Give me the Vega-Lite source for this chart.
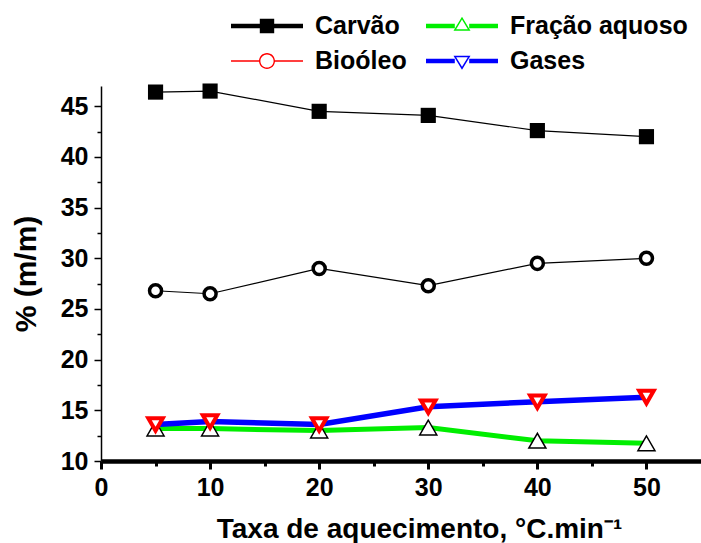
{
  "$schema": "https://vega.github.io/schema/vega-lite/v6.json",
  "width": 600,
  "height": 375,
  "autosize": {"type": "none"},
  "padding": {"left": 101, "top": 86, "right": 0, "bottom": 82},
  "background": "white",
  "config": {
    "view": {"stroke": null},
    "axis": {
      "grid": false,
      "domainColor": "black",
      "tickColor": "black",
      "labelColor": "black",
      "titleColor": "black",
      "labelFont": "Liberation Sans",
      "labelFontWeight": "bold",
      "labelFontSize": 25,
      "titleFont": "Liberation Sans",
      "titleFontWeight": "bold",
      "labelFlush": false,
      "labelOverlap": false
    }
  },
  "data": {
    "values": [
      {"taxa": 5, "valor": 46.4, "serie": "Carvão"},
      {"taxa": 10, "valor": 46.5, "serie": "Carvão"},
      {"taxa": 20, "valor": 44.5, "serie": "Carvão"},
      {"taxa": 30, "valor": 44.1, "serie": "Carvão"},
      {"taxa": 40, "valor": 42.6, "serie": "Carvão"},
      {"taxa": 50, "valor": 42.0, "serie": "Carvão"},
      {"taxa": 5, "valor": 26.8, "serie": "Bioóleo"},
      {"taxa": 10, "valor": 26.5, "serie": "Bioóleo"},
      {"taxa": 20, "valor": 29.0, "serie": "Bioóleo"},
      {"taxa": 30, "valor": 27.3, "serie": "Bioóleo"},
      {"taxa": 40, "valor": 29.5, "serie": "Bioóleo"},
      {"taxa": 50, "valor": 30.0, "serie": "Bioóleo"},
      {"taxa": 5, "valor": 13.2, "serie": "Fração aquoso"},
      {"taxa": 10, "valor": 13.2, "serie": "Fração aquoso"},
      {"taxa": 20, "valor": 13.0, "serie": "Fração aquoso"},
      {"taxa": 30, "valor": 13.3, "serie": "Fração aquoso"},
      {"taxa": 40, "valor": 12.0, "serie": "Fração aquoso"},
      {"taxa": 50, "valor": 11.75, "serie": "Fração aquoso"},
      {"taxa": 5, "valor": 13.6, "serie": "Gases"},
      {"taxa": 10, "valor": 13.9, "serie": "Gases"},
      {"taxa": 20, "valor": 13.6, "serie": "Gases"},
      {"taxa": 30, "valor": 15.35, "serie": "Gases"},
      {"taxa": 40, "valor": 15.85, "serie": "Gases"},
      {"taxa": 50, "valor": 16.3, "serie": "Gases"}
    ]
  },
  "encoding": {
    "x": {
      "field": "taxa",
      "type": "quantitative",
      "scale": {"domain": [0, 55], "nice": false, "zero": false},
      "axis": {
        "values": [0, 5, 10, 15, 20, 25, 30, 35, 40, 45, 50],
        "labelExpr": "datum.value % 10 === 0 ? datum.label : ''",
        "domainWidth": 4.5,
        "tickWidth": 3,
        "tickSize": {"condition": {"test": "datum.value % 10 === 0", "value": 8}, "value": 5},
        "labelPadding": 6,
        "title": "Taxa de aquecimento, °C.min⁻¹",
        "titleFontSize": 28,
        "titlePadding": 15,
        "titleX": 318
      }
    },
    "y": {
      "field": "valor",
      "type": "quantitative",
      "scale": {"domain": [10, 47], "nice": false, "zero": false},
      "axis": {
        "values": [10, 12.5, 15, 17.5, 20, 22.5, 25, 27.5, 30, 32.5, 35, 37.5, 40, 42.5, 45],
        "labelExpr": "datum.value % 5 === 0 ? datum.label : ''",
        "domainWidth": 1.5,
        "tickWidth": 1.5,
        "tickSize": {"condition": {"test": "datum.value % 5 === 0", "value": 7}, "value": 4},
        "labelPadding": 6,
        "title": "% (m/m)",
        "titleFontSize": 30,
        "titlePadding": 19
      }
    }
  },
  "layer": [
    {
      "transform": [{"filter": "datum.serie === 'Carvão'"}],
      "mark": {"type": "line", "color": "black", "strokeWidth": 1.2}
    },
    {
      "transform": [{"filter": "datum.serie === 'Carvão'"}],
      "mark": {"type": "point", "shape": "square", "filled": true, "color": "black", "size": 230, "opacity": 1}
    },
    {
      "transform": [{"filter": "datum.serie === 'Bioóleo'"}],
      "mark": {"type": "line", "color": "black", "strokeWidth": 1.2}
    },
    {
      "transform": [{"filter": "datum.serie === 'Bioóleo'"}],
      "mark": {"type": "point", "shape": "circle", "filled": false, "fill": "white", "stroke": "black", "strokeWidth": 3.5, "size": 145, "opacity": 1}
    },
    {
      "transform": [{"filter": "datum.serie === 'Fração aquoso'"}],
      "mark": {"type": "line", "color": "#00ee00", "strokeWidth": 5}
    },
    {
      "transform": [{"filter": "datum.serie === 'Fração aquoso'"}],
      "mark": {"type": "point", "shape": "triangle-up", "filled": false, "fill": "white", "stroke": "black", "strokeWidth": 1.5, "size": 290, "opacity": 1}
    },
    {
      "transform": [{"filter": "datum.serie === 'Gases'"}],
      "mark": {"type": "line", "color": "#0000ff", "strokeWidth": 5.5}
    },
    {
      "transform": [{"filter": "datum.serie === 'Gases'"}],
      "mark": {"type": "point", "shape": "triangle-down", "filled": false, "fill": "white", "stroke": "#ff0000", "strokeWidth": 4, "size": 210, "opacity": 1}
    },
    {
      "mark": {"type": "point", "filled": true, "opacity": 0},
      "encoding": {
        "color": {
          "field": "serie",
          "type": "nominal",
          "sort": null,
          "scale": {
            "domain": ["Carvão", "Bioóleo", "Fração aquoso", "Gases"],
            "range": ["#000000", "#ff0000", "#00ee00", "#0000ff"]
          },
          "legend": {
            "orient": "none",
            "legendX": 130,
            "legendY": -78,
            "columns": 2,
            "title": null,
            "symbolSize": 1296,
            "symbolStrokeWidth": 0,
            "symbolOpacity": 1,
            "labelOffset": 48,
            "labelFont": "Liberation Sans",
            "labelFontSize": 25,
            "labelFontWeight": "bold",
            "labelColor": "black",
            "labelLimit": 400,
            "columnPadding": 19,
            "rowPadding": 4,
            "padding": 0,
            "encode": {"symbols": {"update": {"opacity": {"value": 1}}}}
          }
        },
        "shape": {
          "field": "serie",
          "type": "nominal",
          "sort": null,
          "scale": {
            "domain": ["Carvão", "Bioóleo", "Fração aquoso", "Gases"],
            "range": [
              "M-1,-0.13H3V0.13H-1Z M0.6,-0.4H1.4V0.4H0.6Z",
              "M-1,-0.042H0.56V0.042H-1Z M1.44,-0.042H3V0.042H1.44Z M1.444,0A0.444,0.444 0 1,1 0.556,0A0.444,0.444 0 1,1 1.444,0Z M1.367,0A0.367,0.367 0 1,0 0.633,0A0.367,0.367 0 1,0 1.367,0Z",
              "M-1,-0.13H0.6V0.13H-1Z M1.4,-0.13H3V0.13H1.4Z M1,-0.517L1.472,0.261L0.528,0.261Z M1,-0.357L0.6755,0.178L1.3245,0.178Z",
              "M-1,-0.13H0.6V0.13H-1Z M1.4,-0.13H3V0.13H1.4Z M1,0.483L0.528,-0.294L1.472,-0.294Z M1,0.323L1.3245,-0.211L0.6755,-0.211Z"
            ]
          }
        }
      }
    }
  ]
}
